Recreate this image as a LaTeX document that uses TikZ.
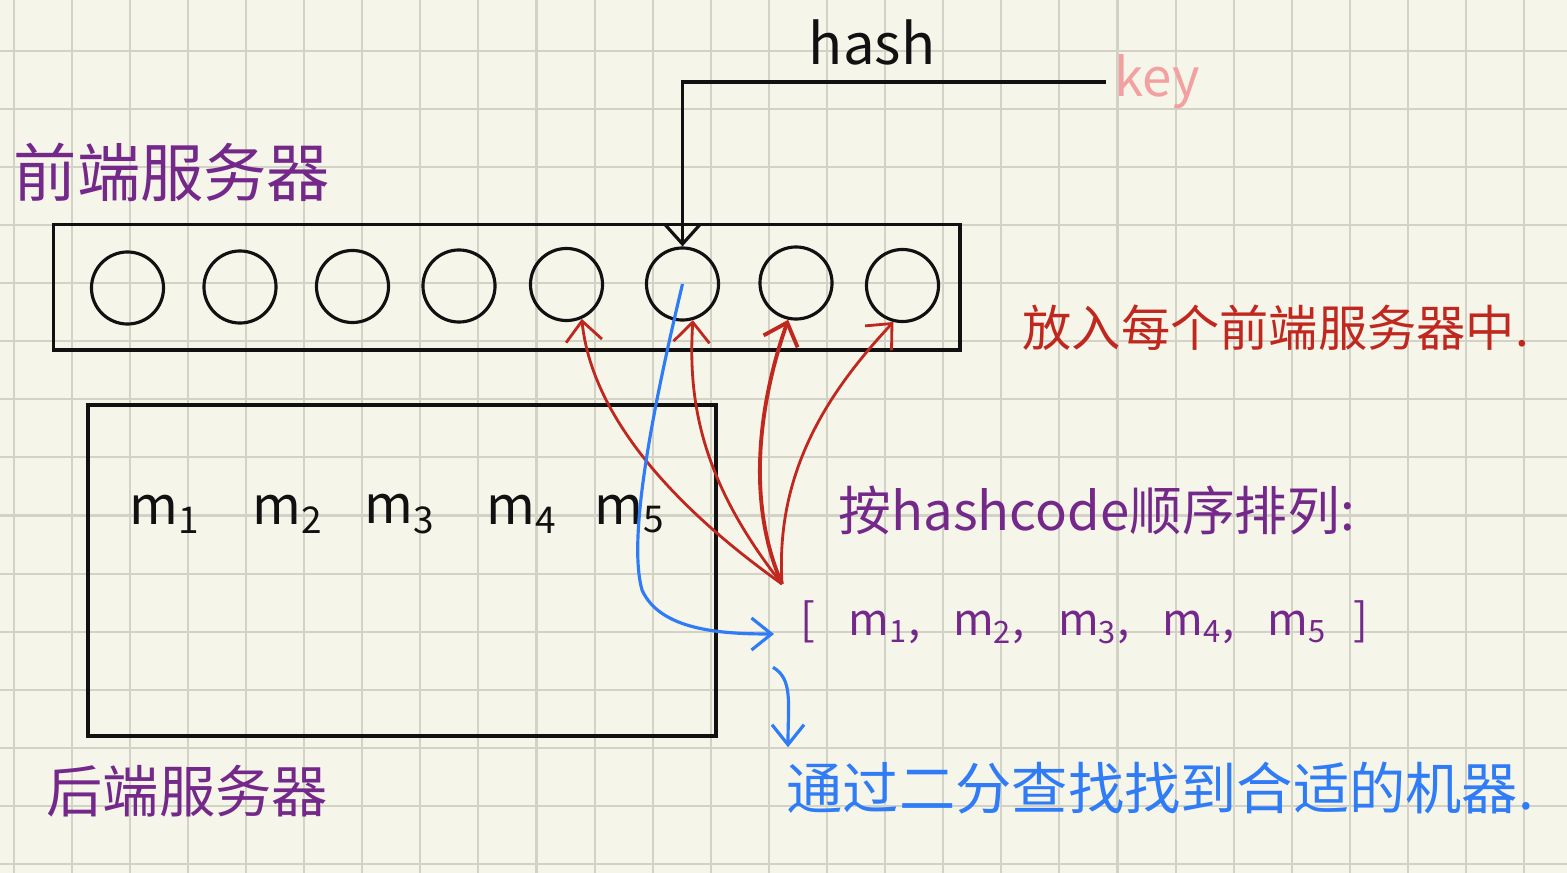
\documentclass[tikz,border=0pt]{standalone}
\usepackage{fontspec}
\newfontfamily\hand{Noto Sans CJK SC}
\usetikzlibrary{arrows.meta, calc}
\definecolor{paper}{HTML}{F5F5EA}
\definecolor{gridln}{HTML}{D2D2C6}
\definecolor{ink}{HTML}{111111}
\definecolor{plum}{HTML}{74288A}
\definecolor{brick}{HTML}{C0281F}
\definecolor{sky}{HTML}{2F7CF6}
\definecolor{blush}{HTML}{F2A0A0}
\tikzset{
  every node/.style = {font=\hand, inner sep=0pt},
  hsbox/.style   = {draw=ink, line width=0.9pt},
  hsslot/.style  = {circle, draw=ink, line width=0.9pt, minimum size=0.72cm, inner sep=0pt},
  hsitem/.style  = {font=\hand\fontsize{15}{17}\selectfont, text=ink},
  hstag/.style   = {font=\hand\fontsize{18}{20}\selectfont, text=plum, anchor=west},
  hsnote/.style  = {font=\hand\fontsize{14}{16}\selectfont, anchor=west},
  hsgo/.style    = {-{Straight Barb[length=2mm,width=3.6mm]}, draw=ink, line width=0.9pt},
  hsfan/.style   = {-{Straight Barb[length=2mm,width=3.6mm]}, draw=brick, line width=0.8pt},
  hsseek/.style  = {-{Straight Barb[length=2mm,width=3.2mm]}, draw=sky, line width=0.9pt},
}

\begin{document}
\begin{tikzpicture}[x=0.01cm, y=-0.01cm]
\fill[paper] (0,0) rectangle (1567,873);
\useasboundingbox (0,0) rectangle (1567,873);
\foreach \gx in {0,...,26}{\draw[gridln, line width=0.6pt] ({13.6+58.1*\gx},0) -- ++(0,873);}
\foreach \gy in {-1,...,14}{\draw[gridln, line width=0.6pt] (0,{50.7+58.1*\gy}) -- ++(1567,0);}

\node[hstag] (fronttag) at (13,172) {前端服务器};
\node[hstag, font=\hand\fontsize{16}{18}\selectfont] (backtag) at (46,791) {后端服务器};

\draw[hsbox] (53.5,224.5) rectangle (960,350);
\draw[hsbox] (88,405) rectangle (716,736);

\foreach \i/\x/\y in {1/127.5/288, 2/240/287, 3/352.5/286.5, 4/459/286,
                      5/566.5/284.5, 6/682.5/284, 7/796/283, 8/902.5/285.5}
  {\node[hsslot] (c\i) at (\x,\y) {};}

\foreach \i/\x in {1/165, 2/288, 3/400, 4/522, 5/630}
  {\node[hsitem] (m\i) at (\x,514) {m\textsubscript{\i}};}

\node[font=\hand\fontsize{16}{18}\selectfont, text=ink] (hashlbl) at (872,42) {hash};
\node[font=\hand\fontsize{15}{17}\selectfont, text=blush, anchor=west] (key) at (1114,82) {key};

\node[hsnote, text=brick] (puttxt) at (1022,328) {放入每个前端服务器中.};
\node[hsnote, text=plum, font=\hand\fontsize{15}{17}\selectfont] (sorttxt) at (838,510)
  {按hashcode顺序排列:};
\node[hsnote, text=plum, font=\hand\fontsize{12.5}{14}\selectfont] (lst) at (800,622)
  {[\hspace{0.75em}m\textsubscript{1},\hspace{0.75em}m\textsubscript{2},\hspace{0.75em}m\textsubscript{3},\hspace{0.75em}m\textsubscript{4},\hspace{0.75em}m\textsubscript{5}\hspace{0.6em}]};
\node[hsnote, text=sky, font=\hand\fontsize{16}{18}\selectfont] (bintxt) at (786,788)
  {通过二分查找找到合适的机器.};

\coordinate (fan) at (782,584);

\draw[hsgo, shorten <=0.8mm] (key.west) -| (c6.north);
\draw[hsfan] (fan) .. controls (650,490) and (590,400) .. (c5.-66);
\draw[hsfan] (fan) .. controls (700,480) and (688,400) .. (c6.-74);
\draw[hsfan, line width=1.1pt] (fan) .. controls (745,500) and (760,400) .. (c7.-102);
\draw[hsfan] (fan) .. controls (775,470) and (830,390) .. (c8.-104);
\draw[hsseek] (c6.center) .. controls (650,420) and (628,540) .. (642,590)
  .. controls (660,630) and (720,634) .. ($(lst.west)+(-26,12)$);
\draw[hsseek] ($(lst.south west)+(-27,23)$) .. controls +(20,12) and +(0,-45) ..
  ($(bintxt.north west)+(2,-14)$);
\end{tikzpicture}
\end{document}
